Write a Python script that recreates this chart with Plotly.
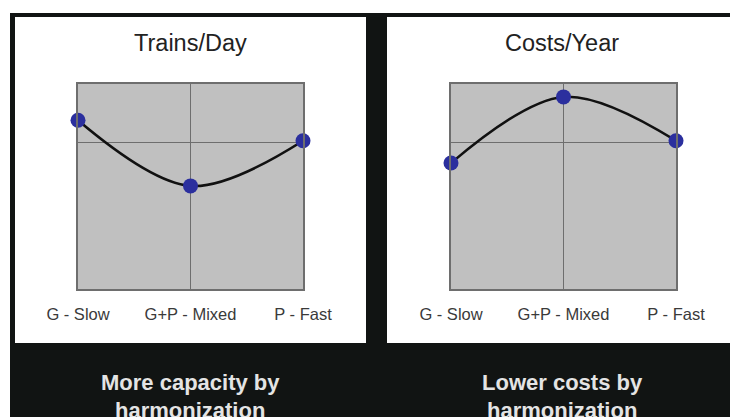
import plotly.graph_objects as go

categories = ["G - Slow", "G+P - Mixed", "P - Fast"]
trains_per_day = [2.88, 1.76, 2.53]
costs_per_year = [2.15, 3.28, 2.53]
panel_titles = ["Trains/Day", "Costs/Year"]
caption_line1 = ["More capacity by", "Lower costs by"]
caption_line2 = ["harmonization", "harmonization"]

W, H = 730, 417
def px(x):
    return x / W
def py(y):
    return 1 - y / H

fig = go.Figure()
xs = [0, 1, 2]
for i, vals in enumerate([trains_per_day, costs_per_year]):
    xa = "x" if i == 0 else "x2"
    ya = "y" if i == 0 else "y2"
    fig.add_trace(go.Scatter(
        x=xs, y=vals, xaxis=xa, yaxis=ya, mode="lines+markers",
        line=dict(color="#111111", width=2.5, shape="spline", smoothing=1.0),
        marker=dict(color="#2b2f9e", size=15, line=dict(width=0)),
        cliponaxis=False, showlegend=False, hoverinfo="skip"))

shapes = [
    dict(type="rect", xref="paper", yref="paper", x0=px(10), x1=1.01, y0=-0.01, y1=py(13),
         fillcolor="#111413", line=dict(width=0), layer="below"),
    dict(type="rect", xref="paper", yref="paper", x0=px(15), x1=px(366), y0=py(343), y1=py(17),
         fillcolor="white", line=dict(width=0), layer="below"),
    dict(type="rect", xref="paper", yref="paper", x0=px(387), x1=1.01, y0=py(343), y1=py(17),
         fillcolor="white", line=dict(width=0), layer="below"),
]
for s in ["", "2"]:
    shapes.append(dict(type="rect", xref="x" + s + " domain", yref="y" + s + " domain",
                       x0=0, x1=1, y0=0, y1=1, fillcolor="#c0c0c0",
                       line=dict(width=0), layer="below"))

axis_common = dict(showline=True, mirror=True, linecolor="#6e6e6e", linewidth=1.8,
                   showgrid=True, gridcolor="#6e6e6e", gridwidth=1, zeroline=False,
                   fixedrange=True, automargin=False)

x_domains = [[px(78), px(303)], [px(451), px(676)]]
y_domain = [py(289), py(84)]

layout = dict(
    width=W, height=H, margin=dict(l=0, r=0, t=0, b=0, pad=0, autoexpand=False),
    paper_bgcolor="white", plot_bgcolor="#c0c0c0",
    font=dict(family="Liberation Sans, Arial, sans-serif"),
    shapes=shapes,
)
for i in range(2):
    s = "" if i == 0 else "2"
    layout["xaxis" + s] = dict(axis_common, domain=x_domains[i], range=[0, 2],
                                tickvals=xs, ticktext=categories, ticks="",
                                ticklabelstandoff=9,
                                tickfont=dict(size=16.5, color="#3a3a3a"),
                                anchor="y" + s)
    layout["yaxis" + s] = dict(axis_common, domain=y_domain, range=[0, 3.5],
                                tickvals=[2.5], showticklabels=False, ticks="",
                                anchor="x" + s)

annotations = []
centers = [190, 562]
for i in range(2):
    annotations.append(dict(text=panel_titles[i], x=px(centers[i]), y=py(43),
                            xref="paper", yref="paper", showarrow=False,
                            xanchor="center", yanchor="middle",
                            font=dict(size=23.5, color="#222222")))
    annotations.append(dict(text="<b>" + caption_line1[i] + "</b>", x=px(centers[i]), y=py(382),
                            xref="paper", yref="paper", showarrow=False,
                            xanchor="center", yanchor="middle",
                            font=dict(size=22, color="#e4e4e4")))
    annotations.append(dict(text="<b>" + caption_line2[i] + "</b>", x=px(centers[i]), y=py(410),
                            xref="paper", yref="paper", showarrow=False,
                            xanchor="center", yanchor="middle",
                            font=dict(size=22, color="#e4e4e4")))
layout["annotations"] = annotations

fig.update_layout(**layout)
fig.write_html("out.html", config={"displayModeBar": False, "staticPlot": True},
               post_script="document.body.style.margin='0';document.body.style.overflow='hidden';")
